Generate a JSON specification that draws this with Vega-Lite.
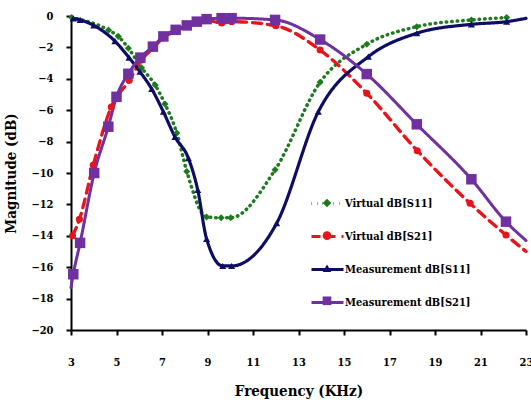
{
  "$schema": "https://vega.github.io/schema/vega-lite/v6.json",
  "width": 455,
  "height": 314,
  "autosize": {"type": "none"},
  "padding": {"left": 71, "top": 16, "right": 5, "bottom": 73},
  "config": {
    "font": "DejaVu Serif",
    "view": {"stroke": null},
    "axis": {
      "labelFont": "DejaVu Serif Condensed", "labelFontWeight": "bold", "labelFontSize": 11, "labelColor": "black",
      "titleFont": "DejaVu Serif Condensed", "titleFontWeight": "bold", "titleFontSize": 15, "titleColor": "black",
      "domainColor": "black", "domainWidth": 2, "tickColor": "black", "tickWidth": 2, "tickSize": 5, "grid": false
    }
  },
  "data": {
    "values": [
      {"series": "Virtual dB[S11]", "f": 3.03, "db": -0.1},
      {"series": "Virtual dB[S11]", "f": 4.65, "db": -0.9},
      {"series": "Virtual dB[S11]", "f": 5.08, "db": -1.3},
      {"series": "Virtual dB[S11]", "f": 5.52, "db": -2.05},
      {"series": "Virtual dB[S11]", "f": 6.1, "db": -3.3},
      {"series": "Virtual dB[S11]", "f": 6.7, "db": -4.4},
      {"series": "Virtual dB[S11]", "f": 7.13, "db": -5.6},
      {"series": "Virtual dB[S11]", "f": 7.65, "db": -7.45},
      {"series": "Virtual dB[S11]", "f": 8.09, "db": -9.9},
      {"series": "Virtual dB[S11]", "f": 8.96, "db": -12.8},
      {"series": "Virtual dB[S11]", "f": 9.6, "db": -12.85},
      {"series": "Virtual dB[S11]", "f": 10.02, "db": -12.85},
      {"series": "Virtual dB[S11]", "f": 11.97, "db": -9.8},
      {"series": "Virtual dB[S11]", "f": 13.95, "db": -4.22},
      {"series": "Virtual dB[S11]", "f": 16.0, "db": -1.8},
      {"series": "Virtual dB[S11]", "f": 18.2, "db": -0.68},
      {"series": "Virtual dB[S11]", "f": 20.6, "db": -0.25},
      {"series": "Virtual dB[S11]", "f": 22.15, "db": -0.1},

      {"series": "Virtual dB[S21]", "f": 3.07, "db": -14.0},
      {"series": "Virtual dB[S21]", "f": 3.37, "db": -12.95},
      {"series": "Virtual dB[S21]", "f": 3.98, "db": -9.5},
      {"series": "Virtual dB[S21]", "f": 4.77, "db": -5.8},
      {"series": "Virtual dB[S21]", "f": 5.56, "db": -4.1},
      {"series": "Virtual dB[S21]", "f": 6.1, "db": -2.8},
      {"series": "Virtual dB[S21]", "f": 6.6, "db": -2.05},
      {"series": "Virtual dB[S21]", "f": 7.05, "db": -1.4},
      {"series": "Virtual dB[S21]", "f": 7.6, "db": -0.95},
      {"series": "Virtual dB[S21]", "f": 8.1, "db": -0.65},
      {"series": "Virtual dB[S21]", "f": 8.55, "db": -0.42},
      {"series": "Virtual dB[S21]", "f": 9.0, "db": -0.28},
      {"series": "Virtual dB[S21]", "f": 9.62, "db": -0.45},
      {"series": "Virtual dB[S21]", "f": 10.06, "db": -0.36},
      {"series": "Virtual dB[S21]", "f": 12.0, "db": -0.62},
      {"series": "Virtual dB[S21]", "f": 13.95, "db": -2.17},
      {"series": "Virtual dB[S21]", "f": 16.0, "db": -4.92},
      {"series": "Virtual dB[S21]", "f": 18.22, "db": -8.58},
      {"series": "Virtual dB[S21]", "f": 20.54, "db": -11.93},
      {"series": "Virtual dB[S21]", "f": 22.12, "db": -13.95},
      {"series": "Virtual dB[S21]", "f": 23.0, "db": -15.0},

      {"series": "Measurement dB[S11]", "f": 3.1, "db": -0.15},
      {"series": "Measurement dB[S11]", "f": 3.4, "db": -0.25},
      {"series": "Measurement dB[S11]", "f": 4.0, "db": -0.6},
      {"series": "Measurement dB[S11]", "f": 4.93, "db": -1.6},
      {"series": "Measurement dB[S11]", "f": 5.55, "db": -2.65},
      {"series": "Measurement dB[S11]", "f": 6.03, "db": -3.55},
      {"series": "Measurement dB[S11]", "f": 6.55, "db": -4.65},
      {"series": "Measurement dB[S11]", "f": 7.06, "db": -6.1},
      {"series": "Measurement dB[S11]", "f": 7.57, "db": -7.7},
      {"series": "Measurement dB[S11]", "f": 8.16, "db": -9.06},
      {"series": "Measurement dB[S11]", "f": 8.57, "db": -11.08},
      {"series": "Measurement dB[S11]", "f": 8.96, "db": -14.2},
      {"series": "Measurement dB[S11]", "f": 9.67, "db": -15.92},
      {"series": "Measurement dB[S11]", "f": 10.06, "db": -15.92},
      {"series": "Measurement dB[S11]", "f": 12.04, "db": -13.2},
      {"series": "Measurement dB[S11]", "f": 13.87, "db": -6.1},
      {"series": "Measurement dB[S11]", "f": 16.07, "db": -2.59},
      {"series": "Measurement dB[S11]", "f": 18.2, "db": -1.1},
      {"series": "Measurement dB[S11]", "f": 20.6, "db": -0.53},
      {"series": "Measurement dB[S11]", "f": 22.15, "db": -0.36},
      {"series": "Measurement dB[S11]", "f": 23.0, "db": -0.15},

      {"series": "Measurement dB[S21]", "f": 3.0, "db": -17.3},
      {"series": "Measurement dB[S21]", "f": 3.1, "db": -16.45},
      {"series": "Measurement dB[S21]", "f": 3.4, "db": -14.45},
      {"series": "Measurement dB[S21]", "f": 4.02, "db": -10.0},
      {"series": "Measurement dB[S21]", "f": 4.64, "db": -7.05},
      {"series": "Measurement dB[S21]", "f": 5.0, "db": -5.15},
      {"series": "Measurement dB[S21]", "f": 5.52, "db": -3.68},
      {"series": "Measurement dB[S21]", "f": 6.05, "db": -2.65},
      {"series": "Measurement dB[S21]", "f": 6.6, "db": -1.95},
      {"series": "Measurement dB[S21]", "f": 7.06, "db": -1.3},
      {"series": "Measurement dB[S21]", "f": 7.6, "db": -0.88},
      {"series": "Measurement dB[S21]", "f": 8.09, "db": -0.6},
      {"series": "Measurement dB[S21]", "f": 8.53, "db": -0.36},
      {"series": "Measurement dB[S21]", "f": 8.96, "db": -0.2},
      {"series": "Measurement dB[S21]", "f": 9.62, "db": -0.14},
      {"series": "Measurement dB[S21]", "f": 10.06, "db": -0.14},
      {"series": "Measurement dB[S21]", "f": 11.97, "db": -0.25},
      {"series": "Measurement dB[S21]", "f": 13.95, "db": -1.5},
      {"series": "Measurement dB[S21]", "f": 16.0, "db": -3.7},
      {"series": "Measurement dB[S21]", "f": 18.2, "db": -6.9},
      {"series": "Measurement dB[S21]", "f": 20.6, "db": -10.4},
      {"series": "Measurement dB[S21]", "f": 22.12, "db": -13.1},
      {"series": "Measurement dB[S21]", "f": 23.0, "db": -14.3}
    ]
  },
  "encoding": {
    "x": {
      "field": "f", "type": "quantitative",
      "scale": {"domain": [3, 23], "nice": false, "zero": false},
      "axis": {"title": "Frequency (KHz)", "values": [3, 5, 7, 9, 11, 13, 15, 17, 19, 21, 23], "labelPadding": 21, "titlePadding": 16, "labelFlush": false}
    },
    "y": {
      "field": "db", "type": "quantitative",
      "scale": {"domain": [-20, 0], "nice": false, "zero": false},
      "axis": {"title": "Magnitude (dB)", "values": [-20, -18, -16, -14, -12, -10, -8, -6, -4, -2, 0], "labelPadding": 13, "titlePadding": 12}
    }
  },
  "resolve": {"scale": {"color": "independent", "shape": "independent", "strokeDash": "independent"}, "legend": {"color": "independent"}},
  "layer": [
    {
      "mark": {"type": "line", "interpolate": "monotone", "strokeCap": "round", "strokeJoin": "round"},
      "encoding": {
        "color": {
          "field": "series", "type": "nominal",
          "scale": {
            "domain": ["Virtual dB[S11]", "Virtual dB[S21]", "Measurement dB[S11]", "Measurement dB[S21]"],
            "range": ["#1f7a1f", "#e8141c", "#0d0d66", "#7030a0"]
          },
          "legend": {
            "title": null, "orient": "none", "legendX": 239, "legendY": 170, "padding": 0,
            "labelFont": "DejaVu Serif Condensed", "labelFontWeight": "bold", "labelFontSize": 11, "labelColor": "black",
            "symbolType": "stroke", "symbolSize": 1024, "rowPadding": 9, "labelOffset": 0, "symbolStrokeWidth": 3
          }
        },
        "strokeDash": {
          "field": "series", "type": "nominal",
          "scale": {
            "domain": ["Virtual dB[S11]", "Virtual dB[S21]", "Measurement dB[S11]", "Measurement dB[S21]"],
            "range": [[0.5, 5], [9, 6], [1, 0], [1, 0]]
          }
        },
        "strokeWidth": {
          "field": "series", "type": "nominal",
          "scale": {
            "domain": ["Virtual dB[S11]", "Virtual dB[S21]", "Measurement dB[S11]", "Measurement dB[S21]"],
            "range": [3.5, 3, 2.5, 2.5]
          },
          "legend": null
        }
      }
    },
    {
      "transform": [{"filter": "datum.f > 3.02 && datum.f < 22.9"}],
      "mark": {"type": "point", "filled": true, "opacity": 1},
      "encoding": {
        "color": {
          "field": "series", "type": "nominal",
          "scale": {
            "domain": ["Virtual dB[S11]", "Virtual dB[S21]", "Measurement dB[S11]", "Measurement dB[S21]"],
            "range": ["#1f7a1f", "#e8141c", "#0d0d66", "#7030a0"]
          },
          "legend": {
            "title": null, "orient": "none", "legendX": 250.5, "legendY": 181.5, "padding": 0,
            "labelFont": "DejaVu Serif Condensed", "labelFontWeight": "bold", "labelFontSize": 11, "labelOpacity": 0,
            "symbolSize": 75, "rowPadding": 20.6, "symbolOpacity": 1, "symbolStrokeWidth": 0
          }
        },
        "shape": {
          "field": "series", "type": "nominal",
          "scale": {
            "domain": ["Virtual dB[S11]", "Virtual dB[S21]", "Measurement dB[S11]", "Measurement dB[S21]"],
            "range": ["diamond", "circle", "triangle-up", "square"]
          }
        },
        "size": {
          "condition": {"test": "datum.series === 'Measurement dB[S21]'", "value": 110},
          "value": 50
        }
      }
    }
  ]
}
